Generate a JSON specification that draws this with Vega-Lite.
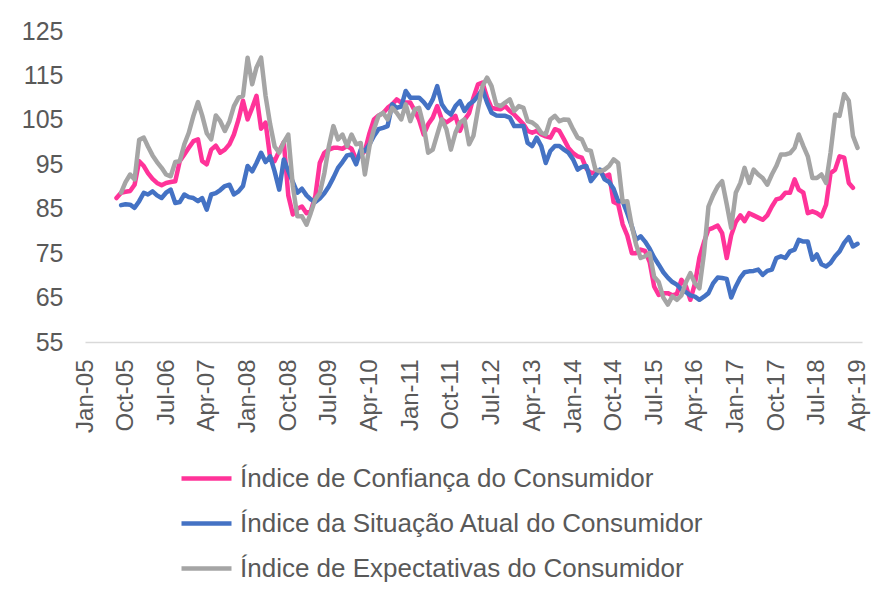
{
"$schema": "https://vega.github.io/schema/vega-lite/v6.json",
"width": 777, "height": 311,
"autosize": {"type": "none"},
"padding": {"left": 85, "top": 31, "right": 27, "bottom": 258},
"background": "white",
"config": {"view": {"stroke": null}, "font": "Liberation Sans"},
"data": {"format": {"parse": {"date": "utc:'%Y-%m'"}}, "values": [
{"date":"2005-08","icc":87.4,"isa":null,"ie":null},
{"date":"2005-09","icc":88.6,"isa":85.8,"ie":88.6},
{"date":"2005-10","icc":88.8,"isa":86.0,"ie":91.0},
{"date":"2005-11","icc":89.0,"isa":85.9,"ie":92.7},
{"date":"2005-12","icc":90.4,"isa":85.2,"ie":91.6},
{"date":"2006-01","icc":95.7,"isa":86.7,"ie":100.5},
{"date":"2006-02","icc":94.6,"isa":88.6,"ie":101.0},
{"date":"2006-03","icc":93.0,"isa":88.2,"ie":99.0},
{"date":"2006-04","icc":91.7,"isa":88.9,"ie":97.0},
{"date":"2006-05","icc":90.8,"isa":88.0,"ie":95.5},
{"date":"2006-06","icc":90.3,"isa":87.4,"ie":94.2},
{"date":"2006-07","icc":90.8,"isa":88.6,"ie":92.7},
{"date":"2006-08","icc":91.0,"isa":89.3,"ie":92.3},
{"date":"2006-09","icc":91.2,"isa":86.3,"ie":95.5},
{"date":"2006-10","icc":95.7,"isa":86.5,"ie":95.7},
{"date":"2006-11","icc":97.2,"isa":88.2,"ie":99.5},
{"date":"2006-12","icc":98.7,"isa":87.6,"ie":102.1},
{"date":"2007-01","icc":100.2,"isa":87.4,"ie":105.9},
{"date":"2007-02","icc":100.6,"isa":86.7,"ie":109.0},
{"date":"2007-03","icc":95.7,"isa":87.4,"ie":106.0},
{"date":"2007-04","icc":95.0,"isa":84.8,"ie":102.0},
{"date":"2007-05","icc":98.3,"isa":88.2,"ie":100.6},
{"date":"2007-06","icc":99.2,"isa":88.5,"ie":106.0},
{"date":"2007-07","icc":97.6,"isa":89.2,"ie":104.7},
{"date":"2007-08","icc":98.3,"isa":90.1,"ie":102.5},
{"date":"2007-09","icc":99.5,"isa":90.4,"ie":104.7},
{"date":"2007-10","icc":101.7,"isa":88.2,"ie":108.1},
{"date":"2007-11","icc":105.1,"isa":88.9,"ie":110.0},
{"date":"2007-12","icc":109.3,"isa":90.1,"ie":110.4},
{"date":"2008-01","icc":105.1,"isa":94.6,"ie":119.0},
{"date":"2008-02","icc":107.7,"isa":93.4,"ie":113.0},
{"date":"2008-03","icc":110.4,"isa":95.3,"ie":116.8},
{"date":"2008-04","icc":103.0,"isa":97.6,"ie":119.0},
{"date":"2008-05","icc":104.4,"isa":95.5,"ie":110.4},
{"date":"2008-06","icc":96.5,"isa":96.8,"ie":104.0},
{"date":"2008-07","icc":95.7,"isa":93.4,"ie":99.0},
{"date":"2008-08","icc":98.0,"isa":89.3,"ie":97.6},
{"date":"2008-09","icc":100.0,"isa":96.1,"ie":100.0},
{"date":"2008-10","icc":88.0,"isa":93.5,"ie":101.7},
{"date":"2008-11","icc":83.7,"isa":91.0,"ie":90.0},
{"date":"2008-12","icc":85.0,"isa":88.6,"ie":83.3},
{"date":"2009-01","icc":85.5,"isa":89.5,"ie":83.3},
{"date":"2009-02","icc":84.0,"isa":88.0,"ie":81.4},
{"date":"2009-03","icc":84.4,"isa":87.1,"ie":84.0},
{"date":"2009-04","icc":87.8,"isa":86.5,"ie":87.1},
{"date":"2009-05","icc":95.3,"isa":87.3,"ie":88.5},
{"date":"2009-06","icc":97.6,"isa":88.5,"ie":93.0},
{"date":"2009-07","icc":98.3,"isa":90.0,"ie":99.0},
{"date":"2009-08","icc":98.7,"isa":92.0,"ie":103.6},
{"date":"2009-09","icc":98.7,"isa":94.2,"ie":100.6},
{"date":"2009-10","icc":98.5,"isa":95.5,"ie":101.7},
{"date":"2009-11","icc":99.1,"isa":97.0,"ie":99.1},
{"date":"2009-12","icc":98.5,"isa":97.2,"ie":101.7},
{"date":"2010-01","icc":96.1,"isa":95.0,"ie":99.5},
{"date":"2010-02","icc":97.0,"isa":98.3,"ie":99.8},
{"date":"2010-03","icc":98.0,"isa":98.0,"ie":92.7},
{"date":"2010-04","icc":102.0,"isa":99.5,"ie":99.1},
{"date":"2010-05","icc":105.1,"isa":101.4,"ie":102.9},
{"date":"2010-06","icc":106.0,"isa":102.9,"ie":105.9},
{"date":"2010-07","icc":106.5,"isa":103.2,"ie":106.6},
{"date":"2010-08","icc":107.7,"isa":103.6,"ie":105.1},
{"date":"2010-09","icc":108.5,"isa":108.5,"ie":107.7},
{"date":"2010-10","icc":109.6,"isa":107.7,"ie":106.6},
{"date":"2010-11","icc":108.9,"isa":108.0,"ie":105.1},
{"date":"2010-12","icc":108.9,"isa":111.5,"ie":108.5},
{"date":"2011-01","icc":108.9,"isa":110.0,"ie":104.7},
{"date":"2011-02","icc":107.0,"isa":110.0,"ie":107.4},
{"date":"2011-03","icc":105.0,"isa":110.0,"ie":107.7},
{"date":"2011-04","icc":101.7,"isa":109.0,"ie":103.6},
{"date":"2011-05","icc":104.0,"isa":107.7,"ie":97.6},
{"date":"2011-06","icc":105.5,"isa":109.6,"ie":98.3},
{"date":"2011-07","icc":108.1,"isa":112.6,"ie":101.7},
{"date":"2011-08","icc":105.1,"isa":108.5,"ie":105.1},
{"date":"2011-09","icc":104.4,"isa":107.0,"ie":102.9},
{"date":"2011-10","icc":105.1,"isa":106.2,"ie":98.3},
{"date":"2011-11","icc":105.9,"isa":108.1,"ie":102.1},
{"date":"2011-12","icc":102.5,"isa":109.2,"ie":104.4},
{"date":"2012-01","icc":105.0,"isa":107.0,"ie":105.1},
{"date":"2012-02","icc":106.5,"isa":108.5,"ie":99.5},
{"date":"2012-03","icc":110.0,"isa":109.2,"ie":101.4},
{"date":"2012-04","icc":113.0,"isa":110.4,"ie":107.4},
{"date":"2012-05","icc":113.4,"isa":111.9,"ie":112.6},
{"date":"2012-06","icc":110.0,"isa":108.9,"ie":114.5},
{"date":"2012-07","icc":107.7,"isa":106.6,"ie":112.6},
{"date":"2012-08","icc":107.5,"isa":106.0,"ie":108.5},
{"date":"2012-09","icc":107.4,"isa":105.9,"ie":108.1},
{"date":"2012-10","icc":108.1,"isa":105.9,"ie":108.9},
{"date":"2012-11","icc":107.0,"isa":105.5,"ie":109.6},
{"date":"2012-12","icc":106.2,"isa":103.6,"ie":107.0},
{"date":"2013-01","icc":105.1,"isa":103.6,"ie":108.1},
{"date":"2013-02","icc":104.0,"isa":103.6,"ie":107.7},
{"date":"2013-03","icc":102.5,"isa":99.8,"ie":104.7},
{"date":"2013-04","icc":102.1,"isa":99.1,"ie":104.4},
{"date":"2013-05","icc":102.5,"isa":101.0,"ie":103.6},
{"date":"2013-06","icc":101.7,"isa":99.1,"ie":102.1},
{"date":"2013-07","icc":101.3,"isa":95.3,"ie":101.7},
{"date":"2013-08","icc":101.0,"isa":98.0,"ie":105.1},
{"date":"2013-09","icc":102.9,"isa":99.1,"ie":105.9},
{"date":"2013-10","icc":102.5,"isa":99.1,"ie":104.7},
{"date":"2013-11","icc":100.6,"isa":98.3,"ie":105.1},
{"date":"2013-12","icc":98.7,"isa":97.6,"ie":105.0},
{"date":"2014-01","icc":97.5,"isa":96.1,"ie":102.9},
{"date":"2014-02","icc":96.8,"isa":93.8,"ie":101.0},
{"date":"2014-03","icc":96.5,"isa":94.4,"ie":100.6},
{"date":"2014-04","icc":94.0,"isa":94.6,"ie":98.3},
{"date":"2014-05","icc":93.0,"isa":91.2,"ie":98.0},
{"date":"2014-06","icc":93.2,"isa":92.5,"ie":93.8},
{"date":"2014-07","icc":93.4,"isa":93.8,"ie":93.4},
{"date":"2014-08","icc":92.3,"isa":91.6,"ie":93.8},
{"date":"2014-09","icc":92.7,"isa":91.0,"ie":94.6},
{"date":"2014-10","icc":86.5,"isa":89.5,"ie":96.1},
{"date":"2014-11","icc":86.0,"isa":86.7,"ie":95.3},
{"date":"2014-12","icc":81.5,"isa":86.7,"ie":86.5},
{"date":"2015-01","icc":79.0,"isa":84.0,"ie":86.7},
{"date":"2015-02","icc":75.0,"isa":81.0,"ie":81.0},
{"date":"2015-03","icc":75.0,"isa":78.0,"ie":77.0},
{"date":"2015-04","icc":75.8,"isa":78.8,"ie":73.9},
{"date":"2015-05","icc":75.5,"isa":77.6,"ie":74.3},
{"date":"2015-06","icc":73.0,"isa":76.0,"ie":75.0},
{"date":"2015-07","icc":67.5,"isa":74.0,"ie":69.7},
{"date":"2015-08","icc":65.6,"isa":72.4,"ie":68.5},
{"date":"2015-09","icc":66.0,"isa":70.7,"ie":65.0},
{"date":"2015-10","icc":66.0,"isa":69.5,"ie":63.4},
{"date":"2015-11","icc":65.5,"isa":68.5,"ie":65.3},
{"date":"2015-12","icc":65.8,"isa":67.9,"ie":64.5},
{"date":"2016-01","icc":69.0,"isa":66.8,"ie":65.5},
{"date":"2016-02","icc":67.5,"isa":66.2,"ie":68.5},
{"date":"2016-03","icc":64.5,"isa":65.5,"ie":70.5},
{"date":"2016-04","icc":68.2,"isa":65.2,"ie":68.2},
{"date":"2016-05","icc":74.0,"isa":64.5,"ie":67.1},
{"date":"2016-06","icc":77.5,"isa":65.2,"ie":75.0},
{"date":"2016-07","icc":80.3,"isa":66.0,"ie":85.5},
{"date":"2016-08","icc":80.7,"isa":68.2,"ie":88.0},
{"date":"2016-09","icc":81.2,"isa":69.5,"ie":90.0},
{"date":"2016-10","icc":79.5,"isa":69.4,"ie":91.2},
{"date":"2016-11","icc":73.9,"isa":69.2,"ie":86.0},
{"date":"2016-12","icc":79.0,"isa":65.0,"ie":80.7},
{"date":"2017-01","icc":82.0,"isa":67.5,"ie":88.6},
{"date":"2017-02","icc":83.5,"isa":69.5,"ie":90.8},
{"date":"2017-03","icc":82.2,"isa":70.7,"ie":94.2},
{"date":"2017-04","icc":84.0,"isa":70.9,"ie":90.8},
{"date":"2017-05","icc":83.5,"isa":71.0,"ie":93.8},
{"date":"2017-06","icc":83.0,"isa":71.3,"ie":92.7},
{"date":"2017-07","icc":82.5,"isa":70.1,"ie":91.9},
{"date":"2017-08","icc":83.5,"isa":71.0,"ie":90.4},
{"date":"2017-09","icc":85.5,"isa":71.3,"ie":92.7},
{"date":"2017-10","icc":87.1,"isa":73.9,"ie":94.6},
{"date":"2017-11","icc":87.4,"isa":74.3,"ie":97.2},
{"date":"2017-12","icc":88.6,"isa":73.9,"ie":97.2},
{"date":"2018-01","icc":88.6,"isa":75.4,"ie":97.5},
{"date":"2018-02","icc":91.6,"isa":75.8,"ie":98.7},
{"date":"2018-03","icc":89.3,"isa":78.0,"ie":101.7},
{"date":"2018-04","icc":88.6,"isa":77.6,"ie":99.1},
{"date":"2018-05","icc":84.0,"isa":77.6,"ie":96.8},
{"date":"2018-06","icc":84.4,"isa":73.5,"ie":91.9},
{"date":"2018-07","icc":84.0,"isa":74.7,"ie":91.9},
{"date":"2018-08","icc":83.3,"isa":72.5,"ie":92.7},
{"date":"2018-09","icc":85.9,"isa":72.0,"ie":90.8},
{"date":"2018-10","icc":93.0,"isa":72.8,"ie":97.6},
{"date":"2018-11","icc":93.8,"isa":74.3,"ie":106.2},
{"date":"2018-12","icc":96.8,"isa":75.4,"ie":105.9},
{"date":"2019-01","icc":96.5,"isa":77.3,"ie":110.8},
{"date":"2019-02","icc":90.8,"isa":78.6,"ie":109.3},
{"date":"2019-03","icc":89.7,"isa":76.5,"ie":101.4},
{"date":"2019-04","icc":null,"isa":77.1,"ie":98.7}
]},
"transform": [{"fold": ["icc", "isa", "ie"], "as": ["serie", "valor"]}],
"mark": {"type": "line", "strokeWidth": 4.5, "strokeCap": "round", "strokeJoin": "round"},
"encoding": {
  "x": {"field": "date", "type": "temporal",
    "scale": {"type": "utc", "domain": [{"year": 2005, "month": 1, "date": 1, "utc": true}, {"year": 2019, "month": 5, "date": 1, "utc": true}]},
    "axis": {"title": null, "format": "%b-%y", "labelAngle": 270, "labelFontSize": 24, "labelColor": "#595959", "ticks": false, "grid": false, "domainColor": "#D9D9D9", "domainWidth": 1.5, "labelPadding": 17, "labelOverlap": false, "labelFlush": false,
      "values": [
        {"year":2005,"month":1,"date":1,"utc":true},{"year":2005,"month":10,"date":1,"utc":true},
        {"year":2006,"month":7,"date":1,"utc":true},{"year":2007,"month":4,"date":1,"utc":true},
        {"year":2008,"month":1,"date":1,"utc":true},{"year":2008,"month":10,"date":1,"utc":true},
        {"year":2009,"month":7,"date":1,"utc":true},{"year":2010,"month":4,"date":1,"utc":true},
        {"year":2011,"month":1,"date":1,"utc":true},{"year":2011,"month":10,"date":1,"utc":true},
        {"year":2012,"month":7,"date":1,"utc":true},{"year":2013,"month":4,"date":1,"utc":true},
        {"year":2014,"month":1,"date":1,"utc":true},{"year":2014,"month":10,"date":1,"utc":true},
        {"year":2015,"month":7,"date":1,"utc":true},{"year":2016,"month":4,"date":1,"utc":true},
        {"year":2017,"month":1,"date":1,"utc":true},{"year":2017,"month":10,"date":1,"utc":true},
        {"year":2018,"month":7,"date":1,"utc":true},{"year":2019,"month":4,"date":1,"utc":true}
      ]}},
  "y": {"field": "valor", "type": "quantitative",
    "scale": {"domain": [55, 125], "nice": false, "zero": false},
    "axis": {"title": null, "values": [55, 65, 75, 85, 95, 105, 115, 125], "labelFontSize": 25, "labelColor": "#595959", "domain": false, "ticks": false, "grid": false, "labelPadding": 22}},
  "color": {"field": "serie", "type": "nominal",
    "scale": {"domain": ["icc", "isa", "ie"], "range": ["#FF3399", "#4472C4", "#A5A5A5"]},
    "legend": {"orient": "none", "legendX": 94, "legendY": 420, "direction": "vertical", "title": null,
      "symbolType": "stroke", "symbolSize": 2500, "symbolStrokeWidth": 4.5, "labelFontSize": 26, "labelColor": "#595959", "labelOffset": 6, "rowPadding": 4, "labelLimit": 0,
      "labelExpr": "datum.value == 'icc' ? 'Índice de Confiança do Consumidor' : datum.value == 'isa' ? 'Índice da Situação Atual do Consumidor' : 'Índice de Expectativas do Consumidor'"}}
}
}
